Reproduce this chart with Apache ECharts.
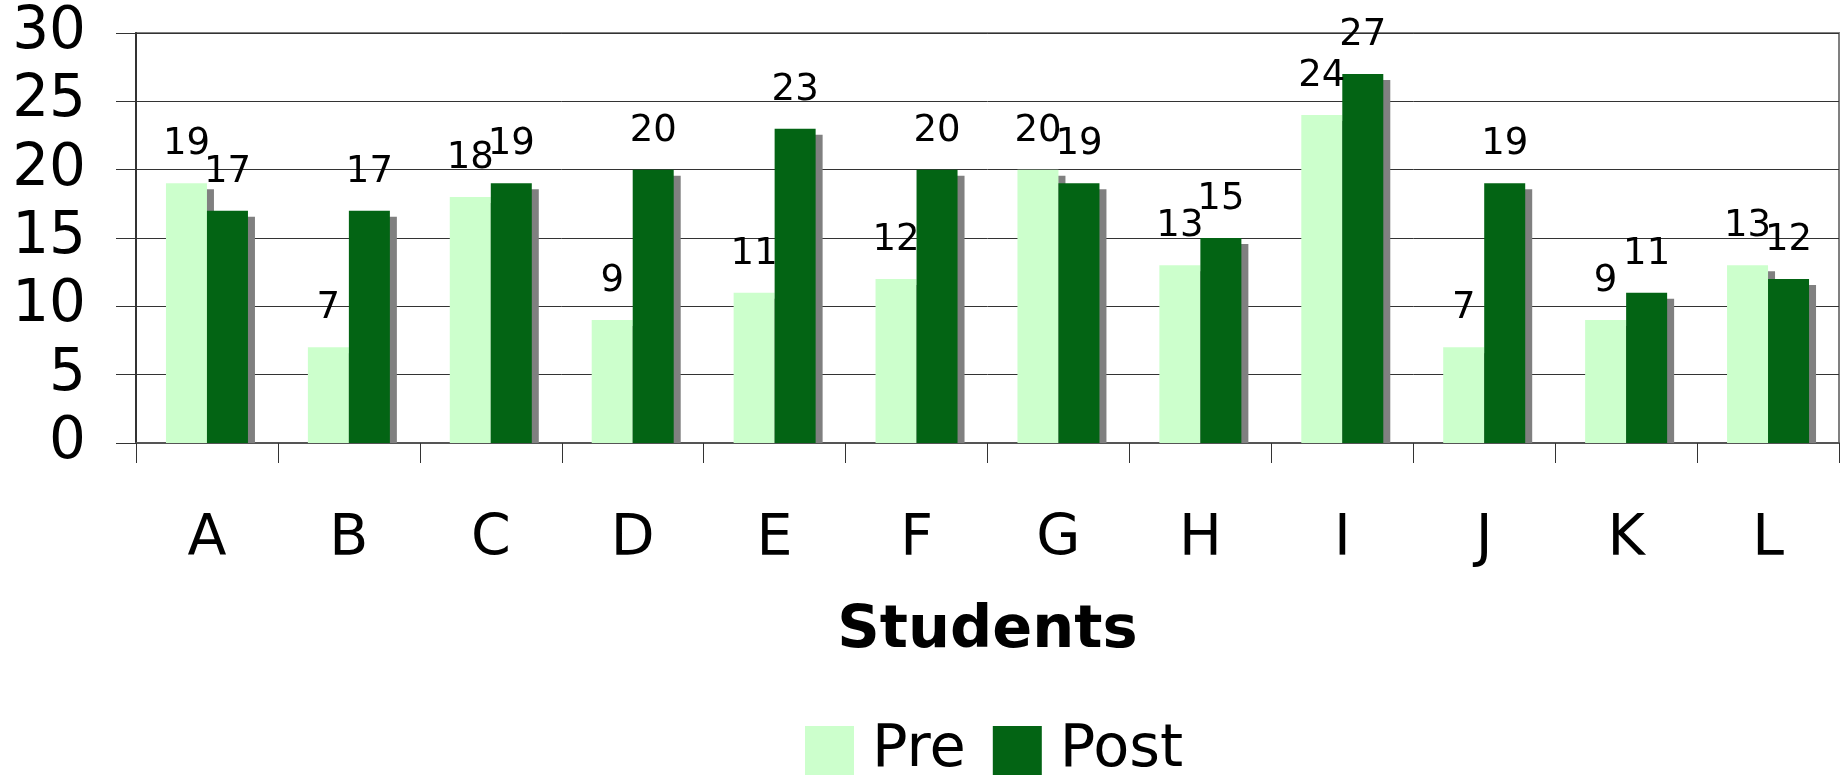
<!DOCTYPE html>
<html>
<head>
<meta charset="utf-8">
<script src="https://cdn.jsdelivr.net/npm/echarts@6/dist/echarts.min.js"></script>
<style>
  html, body { margin: 0; padding: 0; background: #fff; }
  #chart { width: 1845px; height: 776px; }
</style>
</head>
<body>
<div id="chart"></div>
<script>
var students = ['A', 'B', 'C', 'D', 'E', 'F', 'G', 'H', 'I', 'J', 'K', 'L']
var preScores = [19, 7, 18, 9, 11, 12, 20, 13, 24, 7, 9, 13]
var postScores = [17, 17, 19, 20, 23, 20, 19, 15, 27, 19, 11, 12]

var myChart = echarts.init(document.getElementById('chart'))

var BAR_W = 41
// 3d-ish drop shadow behind each bar, stopping at the axis
function shadowSeries(name, values, side) {
  return {
    name: name,
    type: 'custom',
    z: 1,
    silent: true,
    data: values.map(function(v, i) {
      return [i, v]
    }),
    encode: { x: 0, y: 1 },
    renderItem: function(params, api) {
      var top = api.coord([api.value(0), api.value(1)])
      var base = api.coord([api.value(0), 0])
      var left = side === 0 ? top[0] - BAR_W : top[0]
      return {
        type: 'rect',
        shape: {
          x: left + 7,
          y: top[1] + 6,
          width: BAR_W,
          height: base[1] - top[1] - 6
        },
        style: { fill: '#808080' }
      }
    }
  }
}

var option = {
  animation: false,
  textStyle: { fontFamily: 'DejaVu Sans' },
  grid: {
    left: 136,
    right: 6,
    top: 33,
    bottom: 333,
    show: true,
    borderColor: '#808080',
    borderWidth: 2
  },
  legend: {
    data: ['Pre', 'Post'],
    bottom: -9,
    left: 800,
    itemWidth: 49,
    itemHeight: 49,
    itemGap: 27,
    icon: 'rect',
    textStyle: {
      fontSize: 59,
      color: '#000',
      fontFamily: 'DejaVu Sans',
      padding: [0, 0, 0, 13]
    }
  },
  xAxis: {
    type: 'category',
    data: students,
    name: 'Students',
    nameLocation: 'middle',
    nameGap: 159,
    nameTextStyle: {
      fontSize: 59,
      fontWeight: 'bold',
      color: '#000',
      fontFamily: 'DejaVu Sans'
    },
    axisLine: { lineStyle: { color: '#555', width: 2 } },
    axisTick: {
      show: true,
      length: 20,
      alignWithLabel: false,
      lineStyle: { color: '#333', width: 1 }
    },
    axisLabel: {
      fontSize: 57,
      color: '#000',
      margin: 69
    },
    splitLine: { show: false }
  },
  yAxis: {
    type: 'value',
    min: 0,
    max: 30,
    interval: 5,
    axisLine: { show: true, lineStyle: { color: '#333', width: 2 } },
    axisTick: { show: true, length: 20, lineStyle: { color: '#333', width: 1 } },
    axisLabel: {
      fontSize: 58,
      color: '#000',
      margin: 50
    },
    splitLine: { show: true, lineStyle: { color: '#333', width: 1 } }
  },
  series: [
    shadowSeries('preShadow', preScores, 0),
    shadowSeries('postShadow', postScores, 1),
    {
      name: 'Pre',
      type: 'bar',
      z: 2,
      data: preScores,
      barWidth: BAR_W,
      barGap: '0%',
      itemStyle: { color: '#CCFFCC' },
      label: {
        show: true,
        position: 'top',
        distance: 20,
        fontSize: 37,
        color: '#000'
      }
    },
    {
      name: 'Post',
      type: 'bar',
      z: 2,
      data: postScores,
      barWidth: BAR_W,
      barGap: '0%',
      itemStyle: { color: '#036414' },
      label: {
        show: true,
        position: 'top',
        distance: 20,
        fontSize: 37,
        color: '#000'
      }
    }
  ]
}

myChart.setOption(option)
window.onresize = function() {
  myChart.resize()
}
</script>
</body>
</html>
